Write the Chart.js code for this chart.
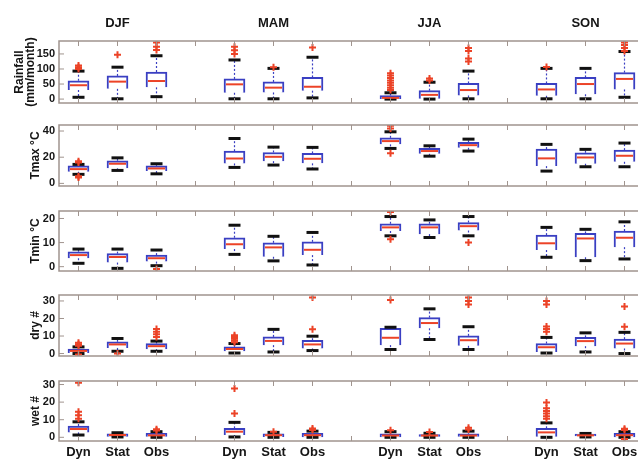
<!DOCTYPE html>
<html>
<head>
<meta charset="utf-8">
<script src="https://cdn.jsdelivr.net/npm/chart.js@4.4.0/dist/chart.umd.min.js"></script>
<style>
  html, body { margin: 0; background: #fff; overflow: hidden; }
  #wrap { position: relative; width: 638px; height: 462px; overflow: hidden; }
  .row { position: absolute; left: 0; }
</style>
</head>
<body>
<div id="wrap"></div>
<script>
const seasons = ['DJF', 'MAM', 'JJA', 'SON'];
const models = ['Dyn', 'Stat', 'Obs'];

// each box: [lower whisker, q1, median, q3, upper whisker], order DJF Dyn/Stat/Obs, MAM ..., JJA ..., SON ...
const rainBox = [
  [6, 30, 46, 61, 93], [1, 34, 58, 77, 106], [8, 39, 60, 90, 144],
  [1, 21, 49, 67, 130], [1, 22, 38, 57, 102], [4, 28, 41, 72, 139],
  [0, 0, 4, 12, 21], [0, 1, 14, 28, 56], [1, 12, 30, 52, 93],
  [1, 11, 32, 52, 102], [1, 16, 50, 72, 102], [6, 32, 67, 88, 158]
];
const rainOut = [
  [100, 106, 112], [147], [163, 174, 188],
  [150, 162, 174], [106], [171],
  [30, 38, 46, 54, 62, 70, 78, 86], [62, 68], [125, 135, 160, 170],
  [107], [], [160, 170, 180, 188]
];
const tmaxBox = [
  [6.9, 8.9, 10.9, 13.4, 14.5], [9.9, 11.5, 15, 17.3, 19.5], [7.3, 9.4, 11.4, 13.4, 15],
  [12.2, 15.2, 19, 24.6, 34.3], [14, 17, 20.3, 23.6, 27.7], [11, 15.3, 18.8, 22.9, 27.5],
  [26.7, 29.8, 32.3, 34.8, 39.4], [20.8, 22.6, 24.7, 26.7, 28.7], [24.7, 27.2, 29.2, 31.3, 33.8],
  [9.4, 13.2, 19.1, 26.2, 29.8], [12.7, 15, 19.8, 23.4, 26], [12.7, 16.5, 21.1, 25.4, 30.8]
];
const tmaxOut = [
  [4.5, 5.5, 16, 17], [], [],
  [], [], [],
  [23, 42, 44], [], [],
  [], [], []
];
const tminBox = [
  [1.4, 3.5, 4.8, 6.2, 7.3], [-0.7, 1.7, 4, 5.4, 7.3], [0.4, 2.1, 3.5, 4.8, 6.9],
  [5.1, 7.3, 9.3, 12, 17.2], [2.4, 4.1, 8, 9.9, 12.6], [0.7, 4.8, 7, 10.3, 14.2],
  [12.8, 14.8, 16.3, 17.8, 20.8], [12.1, 13.5, 16.3, 17.8, 19.4], [12.8, 15, 16.8, 18.3, 20.8],
  [3.9, 6.9, 9.7, 13.1, 16.3], [2.5, 3.9, 11.7, 13.8, 15.5], [3.2, 8.1, 12, 14.8, 18.6]
];
const tminOut = [
  [], [], [-1],
  [], [], [],
  [11.4, 22.7], [], [10],
  [], [], []
];
const dryBox = [
  [0, 0.3, 1.5, 2.6, 3.8], [1.3, 3.2, 5.2, 6.7, 8.6], [1.3, 2.5, 4.2, 5.7, 7.1],
  [0.3, 1.3, 2.6, 3.8, 5.7], [0.9, 4.8, 7.2, 9.5, 13.8], [1.7, 2.9, 5.2, 7.6, 9.9],
  [2.3, 4.8, 9, 14.4, 15], [8, 14.4, 17.4, 20.5, 25.5], [2.3, 4.4, 7.6, 10.1, 15.3],
  [0.3, 0.9, 3.6, 5.7, 9.2], [0.9, 4.2, 7.1, 9.2, 11.8], [0, 2.9, 5.7, 8.2, 12.1]
];
const dryOut = [
  [-0.5, 4.5, 5.3, 6.2], [0], [9.5, 11, 12.5, 14],
  [6.5, 7.5, 8.5, 9.5, 10.5], [], [13.8, 32],
  [30.6], [], [28, 30, 32],
  [12.4, 14, 15.5, 28, 30], [], [15.3, 26.8]
];
const wetBox = [
  [1.3, 2.8, 4.7, 6.4, 8.8], [0.2, 0.5, 1.3, 2, 2.6], [0, 0.3, 1.1, 2.2, 3.2],
  [0.2, 1.3, 3.2, 5.1, 8.5], [0, 0.4, 1.2, 2, 2.8], [0, 0.2, 1.2, 2.3, 3.5],
  [0, 0.2, 1, 2, 3.2], [0, 0.5, 1, 1.5, 2.3], [0, 0.3, 1, 2, 3.5],
  [0, 0.3, 2.8, 5.1, 8.2], [0.2, 0.6, 1.1, 1.8, 2.2], [0, 0.2, 1.2, 2.2, 3.2]
];
const wetOut = [
  [10.5, 12.5, 14.5, 31], [], [3.8, 4.6],
  [13.6, 27.7], [3.2], [4.2, 5],
  [4], [3], [4.5, 5.5],
  [10.5, 12, 13.5, 15, 16.5, 19.8], [], [-1, 4.2, 4.8]
];

const rainTicks = [0, 50, 100, 150];
const tmaxTicks = [0, 20, 40];
const tminTicks = [0, 10, 20];
const dryTicks = [0, 10, 20, 30];
const wetTicks = [0, 10, 20, 30];

const blue = '#3a3fc2';
const red = '#ec4327';
const frameColor = '#a0948e';
const textColor = '#151515';
const sans = "'Liberation Sans Narrow', 'Liberation Sans', Arial, sans-serif";

// x slots: Dyn Stat Obs (gap) Dyn Stat Obs (gap) ...
const xLabels = [];
seasons.forEach((s, i) => {
  models.forEach(m => xLabels.push(m));
  if (i < seasons.length - 1) xLabels.push('');
});
const slotOf = k => Math.floor(k / 3) * 4 + (k % 3) + 1;

const rows = [
  { box: rainBox, out: rainOut, ticks: rainTicks, title: ['Rainfall', '(mm/month)'], min: -13, max: 193, top: 41, bottom: 103, pad: 15, lh: 0.85 },
  { box: tmaxBox, out: tmaxOut, ticks: tmaxTicks, title: 'Tmax °C', min: -2, max: 44.6, top: 125, bottom: 186, pad: 28, lh: 1.2 },
  { box: tminBox, out: tminOut, ticks: tminTicks, title: 'Tmin °C', min: -1.8, max: 23.1, top: 211, bottom: 271, pad: 28, lh: 1.2 },
  { box: dryBox, out: dryOut, ticks: dryTicks, title: 'dry #', min: -1.4, max: 33.4, top: 295, bottom: 356, pad: 28, lh: 1.2 },
  { box: wetBox, out: wetOut, ticks: wetTicks, title: 'wet #', min: -2.1, max: 32, top: 381, bottom: 441, pad: 28, lh: 1.2 }
];

function seg(ctx, x1, y1, x2, y2) {
  ctx.beginPath();
  ctx.moveTo(x1, y1);
  ctx.lineTo(x2, y2);
  ctx.stroke();
}

const boxPlugin = {
  id: 'boxWhiskers',
  afterDatasetDraw(chart, args) {
    if (args.meta.type !== 'bar') return;
    const ctx = chart.ctx;
    const y = chart.scales.y;
    const items = chart.data.datasets[args.index].data;
    args.meta.data.forEach((bar, i) => {
      const s = items[i].stats;
      const cx = bar.x, half = bar.width / 2;
      const py = s.map(v => y.getPixelForValue(v));
      ctx.save();
      ctx.strokeStyle = blue;
      ctx.lineWidth = 1.2;
      ctx.setLineDash([2, 2]);
      seg(ctx, cx, py[3], cx, py[4]);
      seg(ctx, cx, py[1], cx, py[0]);
      ctx.setLineDash([]);
      ctx.strokeStyle = '#111';
      ctx.lineWidth = 3;
      seg(ctx, cx - 6, py[4], cx + 6, py[4]);
      seg(ctx, cx - 6, py[0], cx + 6, py[0]);
      ctx.strokeStyle = red;
      ctx.lineWidth = 2;
      seg(ctx, cx - half + 2, py[2], cx + half - 2, py[2]);
      ctx.restore();
    });
  }
};

const framePlugin = {
  id: 'frame',
  afterDatasetsDraw(chart) {
    const { ctx, chartArea: a, scales } = chart;
    ctx.save();
    ctx.strokeStyle = frameColor;
    ctx.lineWidth = 1.5;
    ctx.strokeRect(a.left, a.top, a.right - a.left, a.bottom - a.top);
    ctx.lineWidth = 1;
    xLabels.forEach((_, i) => {
      const px = scales.x.getPixelForValue(i + 1);
      seg(ctx, px, a.top, px, a.top + 5);
      seg(ctx, px, a.bottom, px, a.bottom - 5);
    });
    scales.y.ticks.forEach(t => {
      const py = scales.y.getPixelForValue(t.value);
      seg(ctx, a.left, py, a.left + 5, py);
    });
    ctx.restore();
  }
};

const wrap = document.getElementById('wrap');
const noGrid = { display: false, drawTicks: false };

rows.forEach((r, ri) => {
  const first = ri === 0, last = ri === rows.length - 1;
  const top = first ? 0 : r.top - 12;
  const bottom = last ? 462 : r.bottom + 12;
  const h = bottom - top;
  const cv = document.createElement('canvas');
  cv.className = 'row';
  cv.width = 650;
  cv.height = h;
  cv.style.top = top + 'px';
  cv.style.width = '650px';
  cv.style.height = h + 'px';
  wrap.appendChild(cv);

  const boxes = r.box.map((b, k) => ({ x: slotOf(k), y: [b[1], b[3]], stats: b }));
  const outliers = r.out.flatMap((vals, k) => vals.map(v => ({ x: slotOf(k), y: v })));

  new Chart(cv, {
    type: 'bar',
    data: {
      datasets: [{
        type: 'bar',
        data: boxes,
        xAxisID: 'x',
        yAxisID: 'y',
        backgroundColor: '#ffffff',
        borderColor: blue,
        borderWidth: 2,
        barThickness: 21,
        order: 1
      }, {
        type: 'scatter',
        data: outliers,
        xAxisID: 'x',
        yAxisID: 'y',
        pointStyle: 'cross',
        radius: 3.5,
        borderColor: red,
        borderWidth: 2,
        order: 0
      }]
    },
    options: {
      responsive: false,
      animation: false,
      devicePixelRatio: 1,
      layout: { padding: { top: first ? 0 : 12, bottom: last ? 0 : 12, left: 0, right: 4 } },
      plugins: { legend: { display: false }, tooltip: { enabled: false } },
      scales: {
        x: {
          type: 'linear',
          min: 0.5,
          max: 15.5,
          offset: false,
          display: last,
          grid: noGrid,
          border: { display: false },
          afterBuildTicks: s => { s.ticks = xLabels.map((_, i) => ({ value: i + 1 })); },
          afterFit: s => { s.height = last ? 21 : 0; },
          ticks: {
            autoSkip: false,
            maxRotation: 0,
            padding: 4,
            color: textColor,
            font: { family: sans, weight: 'bold', size: 13 },
            callback: (v, i) => xLabels[i]
          }
        },
        xTop: {
          type: 'linear',
          position: 'top',
          min: 0.5,
          max: 15.5,
          offset: false,
          display: first,
          grid: noGrid,
          border: { display: false },
          afterBuildTicks: s => { s.ticks = seasons.map((_, i) => ({ value: i * 4 + 2 })); },
          afterFit: s => { s.height = first ? 41 : 0; },
          ticks: {
            autoSkip: false,
            maxRotation: 0,
            padding: 10,
            color: textColor,
            font: { family: sans, weight: 'bold', size: 13 },
            callback: (v, i) => seasons[i]
          }
        },
        y: {
          min: r.min,
          max: r.max,
          grid: noGrid,
          border: { display: false },
          afterBuildTicks: s => { s.ticks = r.ticks.map(v => ({ value: v })); },
          afterFit: s => { s.width = 59; },
          ticks: {
            padding: 4,
            color: textColor,
            font: { family: sans, weight: 'bold', size: 11 }
          },
          title: {
            display: true,
            text: r.title,
            color: textColor,
            font: { family: "'Liberation Sans', Arial, sans-serif", weight: 'bold', size: 12, lineHeight: r.lh },
            padding: { top: r.pad, bottom: 0 }
          }
        }
      }
    },
    plugins: [boxPlugin, framePlugin]
  });
});
</script>
</body>
</html>
